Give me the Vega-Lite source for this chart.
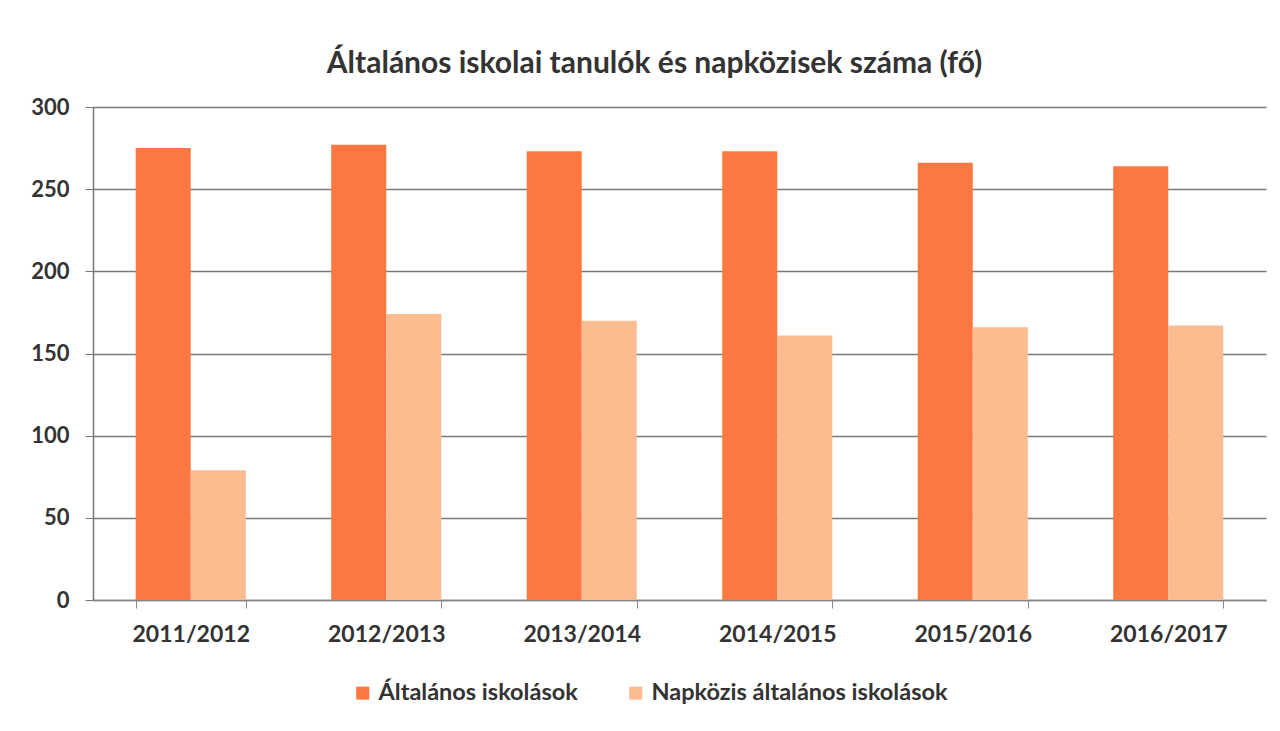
{
  "$schema": "https://vega.github.io/schema/vega-lite/v6.json",
  "autosize": "none",
  "width": 1173,
  "height": 493,
  "padding": {"left": 93, "top": 107, "right": 14, "bottom": 131},
  "background": "white",
  "title": {
    "text": "Általános iskolai tanulók és napközisek száma (fő)",
    "font": "Lato",
    "fontSize": 30,
    "fontWeight": "bold",
    "color": "#333333",
    "anchor": "middle",
    "dx": -25,
    "offset": 17
  },
  "data": {
    "values": [
      {"ev": "2011/2012", "csoport": "Általános iskolások", "fo": 275},
      {"ev": "2011/2012", "csoport": "Napközis általános iskolások", "fo": 79},
      {"ev": "2012/2013", "csoport": "Általános iskolások", "fo": 277},
      {"ev": "2012/2013", "csoport": "Napközis általános iskolások", "fo": 174},
      {"ev": "2013/2014", "csoport": "Általános iskolások", "fo": 273},
      {"ev": "2013/2014", "csoport": "Napközis általános iskolások", "fo": 170},
      {"ev": "2014/2015", "csoport": "Általános iskolások", "fo": 273},
      {"ev": "2014/2015", "csoport": "Napközis általános iskolások", "fo": 161},
      {"ev": "2015/2016", "csoport": "Általános iskolások", "fo": 266},
      {"ev": "2015/2016", "csoport": "Napközis általános iskolások", "fo": 166},
      {"ev": "2016/2017", "csoport": "Általános iskolások", "fo": 264},
      {"ev": "2016/2017", "csoport": "Napközis általános iskolások", "fo": 167}
    ]
  },
  "mark": {"type": "bar"},
  "encoding": {
    "x": {
      "field": "ev",
      "type": "nominal",
      "sort": null,
      "scale": {"paddingInner": 0.437, "paddingOuter": 0.2185},
      "axis": {
        "title": null,
        "labelAngle": 0,
        "labelFont": "Lato",
        "labelFontSize": 23,
        "labelFontWeight": "bold",
        "labelColor": "#333333",
        "labelPadding": 15,
        "tickBand": "extent",
        "tickSize": 8,
        "tickColor": "#888888",
        "domainColor": "#888888",
        "domainWidth": 1.5,
        "grid": false
      }
    },
    "xOffset": {
      "field": "csoport",
      "type": "nominal",
      "sort": ["Általános iskolások", "Napközis általános iskolások"],
      "scale": {"paddingInner": 0, "paddingOuter": 0}
    },
    "y": {
      "field": "fo",
      "type": "quantitative",
      "scale": {"domain": [0, 300], "nice": false},
      "axis": {
        "title": null,
        "values": [0, 50, 100, 150, 200, 250, 300],
        "labelFont": "Lato",
        "labelFontSize": 22,
        "labelFontWeight": "bold",
        "labelColor": "#333333",
        "labelPadding": 16,
        "tickSize": 8,
        "tickColor": "#777777",
        "domainColor": "#777777",
        "domainWidth": 1.5,
        "gridColor": "#7a7a7a",
        "gridWidth": 1.5
      }
    },
    "color": {
      "field": "csoport",
      "type": "nominal",
      "sort": ["Általános iskolások", "Napközis általános iskolások"],
      "scale": {
        "domain": ["Általános iskolások", "Napközis általános iskolások"],
        "range": ["#fc7842", "#fdbb90"]
      },
      "legend": {
        "title": null,
        "orient": "none",
        "direction": "horizontal",
        "legendX": 258,
        "legendY": 574,
        "symbolType": "square",
        "symbolSize": 170,
        "symbolStrokeWidth": 0,
        "labelFont": "Lato",
        "labelFontSize": 23.5,
        "labelFontWeight": "bold",
        "labelColor": "#333333",
        "labelLimit": 0,
        "labelOffset": 4,
        "columnPadding": 46
      }
    }
  },
  "config": {
    "view": {"stroke": null}
  }
}
